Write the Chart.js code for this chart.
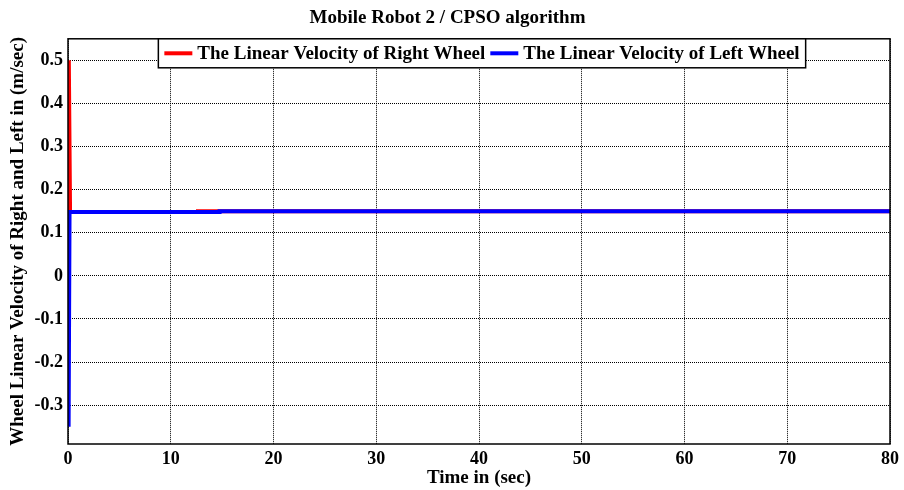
<!DOCTYPE html>
<html>
<head>
<meta charset="utf-8">
<script src="https://cdn.jsdelivr.net/npm/chart.js@4.4.1/dist/chart.umd.min.js"></script>
<style>
  html, body { margin: 0; padding: 0; background: #fff; }
  #wrap { width: 904px; height: 490px; }
</style>
</head>
<body>
<div id="wrap"><canvas id="velocity-chart"></canvas></div>
<script>
const FONT = '"Liberation Serif", "Times New Roman", serif'

// right wheel: spike to 0.5 at start, then settles near 0.15
const rightTime = [0, 0.08, 0.2, 12.6, 12.65, 80]
const rightVel = [0, 0.5, 0.148, 0.148, 0.1502, 0.1502]

// left wheel: dip to -0.35 at start, then settles near 0.15
const leftTime = [0, 0.06, 0.15, 14.7, 14.75, 80]
const leftVel = [0, -0.35, 0.148, 0.148, 0.1502, 0.1502]

const xTicks = [0, 10, 20, 30, 40, 50, 60, 70, 80]
const yTicks = [-0.3, -0.2, -0.1, 0, 0.1, 0.2, 0.3, 0.4, 0.5]

const toPoints = (t, v) => t.map((x, i) => ({ x: x, y: v[i] }))

// box around the plot area
const frame = {
  id: 'frame',
  afterDatasetsDraw(chart) {
    const { ctx, chartArea: a } = chart
    ctx.save()
    ctx.strokeStyle = '#000'
    ctx.lineWidth = 1.5
    ctx.strokeRect(a.left, a.top, a.right - a.left, a.bottom - a.top)
    ctx.restore()
  }
}

// legend drawn inside the plot, touching the top edge
const insideLegend = {
  id: 'insideLegend',
  afterDraw(chart) {
    const { ctx, chartArea: a } = chart
    const sets = chart.data.datasets
    ctx.save()
    ctx.font = 'bold 19px ' + FONT
    const lineLen = 28, gap = 5, pad = 6, between = 5
    let total = pad * 2
    sets.forEach((ds, i) => {
      total += lineLen + gap + ctx.measureText(ds.label).width
      if (i < sets.length - 1) total += between
    })
    const h = 29
    const x0 = 482 - total / 2
    const y0 = a.top
    ctx.fillStyle = '#fff'
    ctx.fillRect(x0, y0, total, h)
    ctx.strokeStyle = '#000'
    ctx.lineWidth = 1.5
    ctx.strokeRect(x0, y0, total, h)
    let x = x0 + pad
    const yc = y0 + h / 2
    sets.forEach(ds => {
      ctx.strokeStyle = ds.borderColor
      ctx.lineWidth = 4
      ctx.beginPath()
      ctx.moveTo(x, yc)
      ctx.lineTo(x + lineLen, yc)
      ctx.stroke()
      x += lineLen + gap
      ctx.fillStyle = '#000'
      ctx.textBaseline = 'middle'
      ctx.fillText(ds.label, x, yc + 1)
      x += ctx.measureText(ds.label).width + between
    })
    ctx.restore()
  }
}

const data = {
  datasets: [
    {
      label: 'The Linear Velocity of Right Wheel',
      data: toPoints(rightTime, rightVel),
      borderColor: '#ff0000',
      backgroundColor: '#ff0000',
      borderWidth: 4,
      order: 2
    },
    {
      label: 'The Linear Velocity of Left Wheel',
      data: toPoints(leftTime, leftVel),
      borderColor: '#0000ff',
      backgroundColor: '#0000ff',
      borderWidth: 4,
      order: 1
    }
  ]
}

const tickFont = { family: FONT, size: 18, weight: 'bold' }
const labelFont = { family: FONT, size: 19, weight: 'bold' }

const config = {
  type: 'line',
  data: data,
  options: {
    responsive: true,
    maintainAspectRatio: false,
    animation: false,
    layout: { padding: { left: 0, right: 9, top: 0, bottom: 0 } },
    elements: { point: { radius: 0 }, line: { tension: 0 } },
    plugins: {
      legend: { display: false },
      tooltip: { enabled: false },
      title: {
        display: true,
        text: 'Mobile Robot 2 / CPSO algorithm',
        color: '#000',
        font: labelFont,
        padding: { top: 7, bottom: 9 }
      }
    },
    scales: {
      x: {
        type: 'linear',
        min: 0,
        max: 80,
        afterBuildTicks: scale => { scale.ticks = xTicks.map(v => ({ value: v })) },
        afterFit: scale => { scale.height = 46 },
        ticks: { color: '#000', font: tickFont, padding: 5, maxRotation: 0 },
        grid: { color: '#000', lineWidth: 1, drawTicks: false },
        border: { display: false, dash: [1, 1] },
        title: {
          display: true,
          text: 'Time in (sec)',
          color: '#000',
          font: labelFont,
          padding: { top: 0, bottom: 1 }
        }
      },
      y: {
        type: 'linear',
        min: -0.39,
        max: 0.55,
        afterBuildTicks: scale => { scale.ticks = yTicks.map(v => ({ value: v })) },
        afterFit: scale => { scale.width = 68 },
        ticks: {
          color: '#000',
          font: tickFont,
          padding: 5,
          callback: v => (Math.abs(v) < 1e-9 ? '0' : v.toFixed(1))
        },
        grid: { color: '#000', lineWidth: 1, drawTicks: false },
        border: { display: false, dash: [1, 1] },
        title: {
          display: true,
          text: 'Wheel Linear Velocity of Right and Left in (m/sec)',
          color: '#000',
          font: labelFont,
          padding: { top: 7, bottom: 0 }
        }
      }
    }
  },
  plugins: [frame, insideLegend]
}

const chart = new Chart(document.getElementById('velocity-chart'), config)
</script>
</body>
</html>
